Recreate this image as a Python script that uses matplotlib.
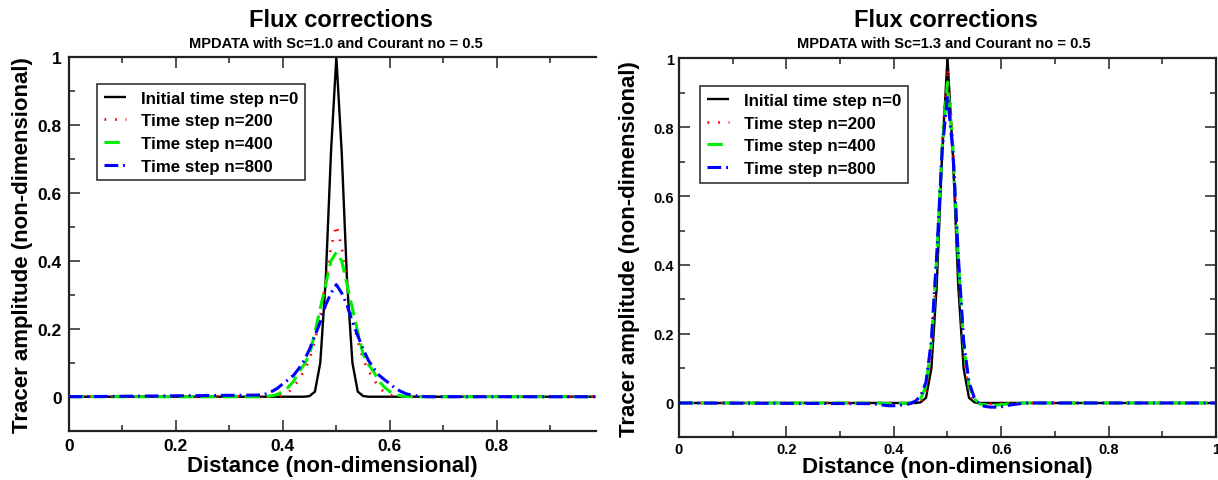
import matplotlib
matplotlib.use('Agg')
import matplotlib.pyplot as plt
from matplotlib.ticker import MultipleLocator, FuncFormatter

plt.rcParams['font.family'] = ['Liberation Sans', 'DejaVu Sans']
plt.rcParams['font.weight'] = 'bold'

# ---- data (grid points of the tracer profile) ----
x_pts = [0.00, 0.36, 0.37, 0.38, 0.39, 0.40, 0.41, 0.42, 0.43, 0.44,
         0.45, 0.46, 0.47, 0.48, 0.49, 0.50, 0.51, 0.52, 0.53, 0.54,
         0.55, 0.56, 0.57, 0.58, 0.59, 0.60, 0.61, 0.62, 0.63, 0.64,
         0.65, 0.66, 0.67, 1.00]

init_n0 = [0, 0, 0, 0, 0, 0, 0, 0, 0, 0,
           0.002, 0.015, 0.10, 0.34, 0.72, 1.00, 0.72, 0.34, 0.10, 0.015,
           0.002, 0, 0, 0, 0, 0, 0, 0, 0, 0,
           0, 0, 0, 0]

# left panel: Sc=1.0
l_n200 = [0, 0, 0, 0, 0.002, 0.005, 0.012, 0.028, 0.05, 0.077,
          0.11, 0.165, 0.235, 0.34, 0.44, 0.505, 0.44, 0.34, 0.235, 0.165,
          0.11, 0.077, 0.05, 0.028, 0.012, 0.005, 0.002, 0, 0, 0,
          0, 0, 0, 0]
l_n400 = [0, 0, 0.001, 0.003, 0.007, 0.015, 0.028, 0.045, 0.073, 0.095,
          0.125, 0.19, 0.26, 0.33, 0.40, 0.425, 0.40, 0.33, 0.26, 0.19,
          0.125, 0.095, 0.073, 0.045, 0.028, 0.015, 0.007, 0.003, 0.001, 0,
          0, 0, 0, 0]
l_n800 = [0, 0.005, 0.009, 0.016, 0.025, 0.038, 0.05, 0.063, 0.083, 0.107,
          0.14, 0.18, 0.22, 0.27, 0.305, 0.33, 0.305, 0.27, 0.22, 0.18,
          0.14, 0.107, 0.083, 0.063, 0.05, 0.038, 0.025, 0.016, 0.009, 0.005,
          0.003, 0.001, 0, 0]

# right panel: Sc=1.3
r_n200 = [0, 0, 0, 0, 0, 0, 0, 0, 0, 0,
          0.004, 0.03, 0.14, 0.40, 0.76, 0.97, 0.76, 0.40, 0.14, 0.03,
          0.004, -0.002, -0.002, -0.002, -0.001, 0, 0, 0, 0, 0,
          0, 0, 0, 0]
r_n400 = [0, 0, 0, -0.001, -0.002, -0.003, -0.002, -0.001, 0, 0.004,
          0.012, 0.05, 0.17, 0.42, 0.74, 0.93, 0.74, 0.42, 0.17, 0.05,
          0.012, -0.003, -0.005, -0.006, -0.006, -0.005, -0.003, -0.002, -0.001, 0,
          0, 0, 0, 0]
r_n800 = [0, -0.002, -0.004, -0.006, -0.008, -0.008, -0.007, -0.005, -0.002, 0.005,
          0.02, 0.06, 0.18, 0.43, 0.73, 0.89, 0.73, 0.43, 0.18, 0.06,
          0.015, -0.005, -0.01, -0.012, -0.012, -0.011, -0.008, -0.005, -0.003, -0.001,
          0, 0, 0, 0]

labels = ['Initial time step n=0', 'Time step n=200', 'Time step n=400', 'Time step n=800']
subtitles = ['MPDATA with Sc=1.0 and Courant no = 0.5',
             'MPDATA with Sc=1.3 and Courant no = 0.5']

styles = [
    dict(color='black', lw=1.7, ls='-'),
    dict(color='#ff0000', lw=2.0, ls=(0, (0.6, 3.2))),
    dict(color='#00ee00', lw=2.2, ls=(0, (5, 2.2))),
    dict(color='#0000ff', lw=2.2, ls=(0, (4.5, 1.6, 0.6, 1.6))),
]

fig = plt.figure(figsize=(12.18, 4.81), dpi=100)
ax1 = fig.add_axes([0.0564, 0.1025, 0.4329, 0.7769])
ax2 = fig.add_axes([0.5573, 0.0884, 0.4412, 0.7889])

fmt = FuncFormatter(lambda v, p: f'{v:g}')

# ax, series, xmax, tick font, tick pad, legend anchor, xlabel y, ylabel x
panels = [
    (ax1, [init_n0, l_n200, l_n400, l_n800], 0.985, 12.5, 5, (0.054, 0.928), -0.064, -0.068),
    (ax2, [init_n0, r_n200, r_n400, r_n800], 1.0, 10.5, 3.5, (0.040, 0.926), -0.049, -0.072),
]

for ax, series, xmax, tfs, tpad, lpos, xly, ylx in panels:
    for ys, st, lab in zip(series, styles, labels):
        ax.plot(x_pts, ys, label=lab, solid_capstyle='butt', dash_capstyle='butt', **st)
    ax.set_xlim(0, xmax)
    ax.set_ylim(-0.1, 1.0)
    ax.xaxis.set_major_locator(MultipleLocator(0.2))
    ax.xaxis.set_minor_locator(MultipleLocator(0.1))
    ax.yaxis.set_major_locator(MultipleLocator(0.2))
    ax.yaxis.set_minor_locator(MultipleLocator(0.1))
    ax.xaxis.set_major_formatter(fmt)
    ax.yaxis.set_major_formatter(fmt)
    ax.tick_params(which='both', direction='in', top=True, right=True,
                   labelsize=tfs, width=1.2, color='#333333', pad=tpad)
    ax.tick_params(which='major', length=8)
    ax.tick_params(which='minor', length=4)
    for sp in ax.spines.values():
        sp.set_linewidth(1.6)
        sp.set_color('#222222')
    ax.set_xlabel('Distance (non-dimensional)', fontsize=16, fontweight='bold')
    ax.set_ylabel('Tracer amplitude (non-dimensional)', fontsize=16, fontweight='bold')
    ax.xaxis.set_label_coords(0.5, xly)
    ax.yaxis.set_label_coords(ylx, 0.5)
    leg = ax.legend(loc='upper left', bbox_to_anchor=lpos, borderaxespad=0,
                    fancybox=False, framealpha=1, edgecolor='#333333',
                    prop={'size': 12.2, 'weight': 'bold'}, handlelength=1.3,
                    handletextpad=0.9, labelspacing=0.45, borderpad=0.4)
    leg.get_frame().set_linewidth(1.2)

ax1.spines['right'].set_visible(False)
ax1.tick_params(which='both', right=False)

for xc in [0.280, 0.777]:
    fig.text(xc, 0.944, 'Flux corrections', ha='center', va='baseline',
             fontsize=17, fontweight='bold')
for xc, sub in zip([0.276, 0.775], subtitles):
    fig.text(xc, 0.900, sub, ha='center', va='baseline', fontsize=10.5, fontweight='bold')

fig.savefig('out.png', dpi=100)
